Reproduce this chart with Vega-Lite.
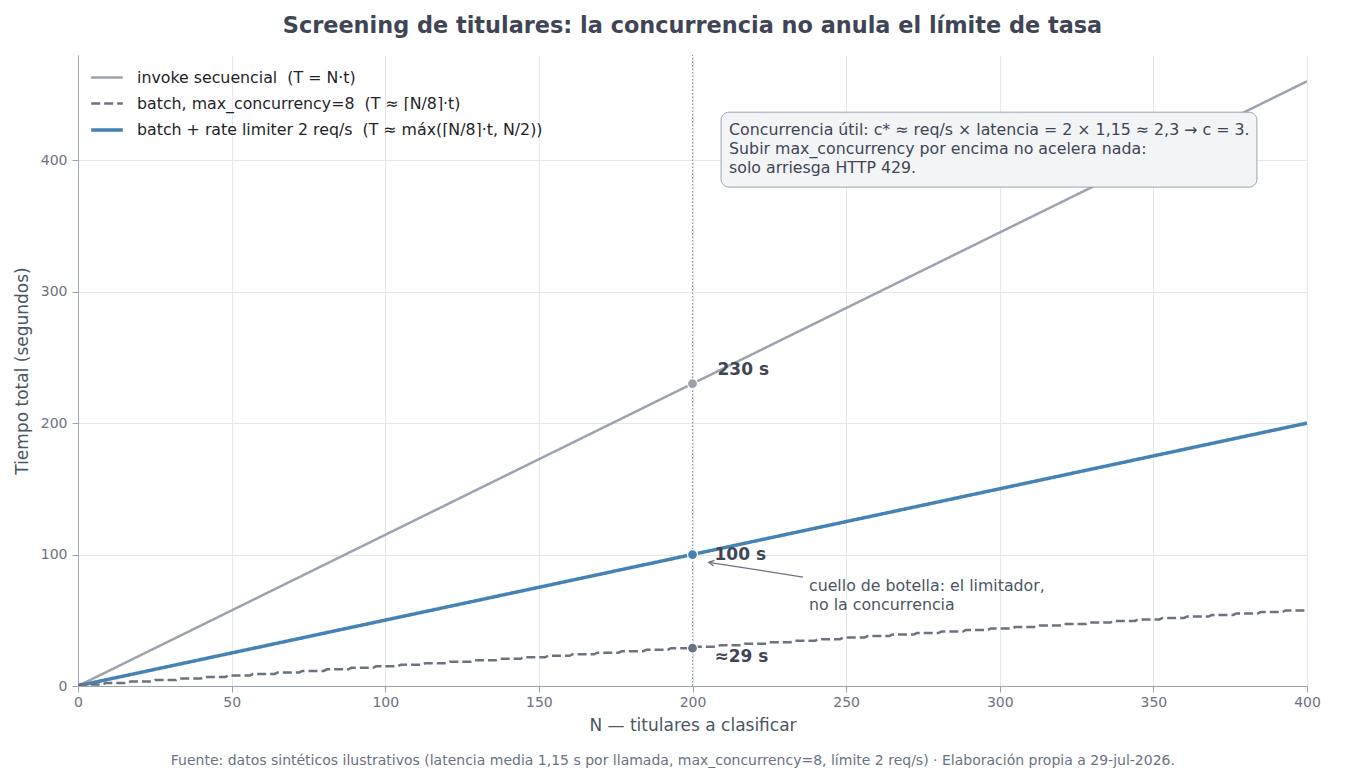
{
  "$schema": "https://vega.github.io/schema/vega-lite/v6.json",
  "width": 1229,
  "height": 631,
  "autosize": {"type": "none"},
  "padding": {"left": 78, "top": 55, "right": 43, "bottom": 94},
  "background": "white",
  "config": {
    "font": "DejaVu Sans",
    "view": {"stroke": null},
    "axis": {
      "domainColor": "#9aa3b2",
      "tickColor": "#9aa3b2",
      "gridColor": "#e5e7eb",
      "labelColor": "#6b7280",
      "labelFontSize": 14,
      "titleColor": "#4b5563",
      "titleFontSize": 17,
      "titleFontWeight": "normal",
      "tickSize": 6
    },
    "legend": {
      "labelFontSize": 15.8,
      "labelColor": "#1f2328",
      "labelLimit": 700
    }
  },
  "title": {
    "text": "Screening de titulares: la concurrencia no anula el límite de tasa",
    "fontSize": 22.4,
    "fontWeight": "bold",
    "color": "#3f4555",
    "offset": 17
  },
  "data": {"values": [{}]},
  "datasets": {
    "lineas": [
      {"serie": "invoke secuencial\u00a0\u00a0(T = N·t)", "N": 0, "T": 0},
      {"serie": "invoke secuencial\u00a0\u00a0(T = N·t)", "N": 400, "T": 460},
      {"serie": "batch + rate limiter 2 req/s\u00a0\u00a0(T ≈ máx(⌈N/8⌉·t, N/2))", "N": 0, "T": 0},
      {"serie": "batch + rate limiter 2 req/s\u00a0\u00a0(T ≈ máx(⌈N/8⌉·t, N/2))", "N": 1, "T": 1.15},
      {"serie": "batch + rate limiter 2 req/s\u00a0\u00a0(T ≈ máx(⌈N/8⌉·t, N/2))", "N": 2, "T": 1.15},
      {"serie": "batch + rate limiter 2 req/s\u00a0\u00a0(T ≈ máx(⌈N/8⌉·t, N/2))", "N": 400, "T": 200},
      {"serie": "batch, max_concurrency=8\u00a0\u00a0(T ≈ ⌈N/8⌉·t)", "N": 0, "T": 0},
      {"serie": "batch, max_concurrency=8\u00a0\u00a0(T ≈ ⌈N/8⌉·t)", "N": 1, "T": 1.15},
      {"serie": "batch, max_concurrency=8\u00a0\u00a0(T ≈ ⌈N/8⌉·t)", "N": 8, "T": 1.15},
      {"serie": "batch, max_concurrency=8\u00a0\u00a0(T ≈ ⌈N/8⌉·t)", "N": 9, "T": 2.3},
      {"serie": "batch, max_concurrency=8\u00a0\u00a0(T ≈ ⌈N/8⌉·t)", "N": 16, "T": 2.3},
      {"serie": "batch, max_concurrency=8\u00a0\u00a0(T ≈ ⌈N/8⌉·t)", "N": 17, "T": 3.45},
      {"serie": "batch, max_concurrency=8\u00a0\u00a0(T ≈ ⌈N/8⌉·t)", "N": 24, "T": 3.45},
      {"serie": "batch, max_concurrency=8\u00a0\u00a0(T ≈ ⌈N/8⌉·t)", "N": 25, "T": 4.6},
      {"serie": "batch, max_concurrency=8\u00a0\u00a0(T ≈ ⌈N/8⌉·t)", "N": 32, "T": 4.6},
      {"serie": "batch, max_concurrency=8\u00a0\u00a0(T ≈ ⌈N/8⌉·t)", "N": 33, "T": 5.75},
      {"serie": "batch, max_concurrency=8\u00a0\u00a0(T ≈ ⌈N/8⌉·t)", "N": 40, "T": 5.75},
      {"serie": "batch, max_concurrency=8\u00a0\u00a0(T ≈ ⌈N/8⌉·t)", "N": 41, "T": 6.9},
      {"serie": "batch, max_concurrency=8\u00a0\u00a0(T ≈ ⌈N/8⌉·t)", "N": 48, "T": 6.9},
      {"serie": "batch, max_concurrency=8\u00a0\u00a0(T ≈ ⌈N/8⌉·t)", "N": 49, "T": 8.05},
      {"serie": "batch, max_concurrency=8\u00a0\u00a0(T ≈ ⌈N/8⌉·t)", "N": 56, "T": 8.05},
      {"serie": "batch, max_concurrency=8\u00a0\u00a0(T ≈ ⌈N/8⌉·t)", "N": 57, "T": 9.2},
      {"serie": "batch, max_concurrency=8\u00a0\u00a0(T ≈ ⌈N/8⌉·t)", "N": 64, "T": 9.2},
      {"serie": "batch, max_concurrency=8\u00a0\u00a0(T ≈ ⌈N/8⌉·t)", "N": 65, "T": 10.35},
      {"serie": "batch, max_concurrency=8\u00a0\u00a0(T ≈ ⌈N/8⌉·t)", "N": 72, "T": 10.35},
      {"serie": "batch, max_concurrency=8\u00a0\u00a0(T ≈ ⌈N/8⌉·t)", "N": 73, "T": 11.5},
      {"serie": "batch, max_concurrency=8\u00a0\u00a0(T ≈ ⌈N/8⌉·t)", "N": 80, "T": 11.5},
      {"serie": "batch, max_concurrency=8\u00a0\u00a0(T ≈ ⌈N/8⌉·t)", "N": 81, "T": 12.65},
      {"serie": "batch, max_concurrency=8\u00a0\u00a0(T ≈ ⌈N/8⌉·t)", "N": 88, "T": 12.65},
      {"serie": "batch, max_concurrency=8\u00a0\u00a0(T ≈ ⌈N/8⌉·t)", "N": 89, "T": 13.8},
      {"serie": "batch, max_concurrency=8\u00a0\u00a0(T ≈ ⌈N/8⌉·t)", "N": 96, "T": 13.8},
      {"serie": "batch, max_concurrency=8\u00a0\u00a0(T ≈ ⌈N/8⌉·t)", "N": 97, "T": 14.95},
      {"serie": "batch, max_concurrency=8\u00a0\u00a0(T ≈ ⌈N/8⌉·t)", "N": 104, "T": 14.95},
      {"serie": "batch, max_concurrency=8\u00a0\u00a0(T ≈ ⌈N/8⌉·t)", "N": 105, "T": 16.1},
      {"serie": "batch, max_concurrency=8\u00a0\u00a0(T ≈ ⌈N/8⌉·t)", "N": 112, "T": 16.1},
      {"serie": "batch, max_concurrency=8\u00a0\u00a0(T ≈ ⌈N/8⌉·t)", "N": 113, "T": 17.25},
      {"serie": "batch, max_concurrency=8\u00a0\u00a0(T ≈ ⌈N/8⌉·t)", "N": 120, "T": 17.25},
      {"serie": "batch, max_concurrency=8\u00a0\u00a0(T ≈ ⌈N/8⌉·t)", "N": 121, "T": 18.4},
      {"serie": "batch, max_concurrency=8\u00a0\u00a0(T ≈ ⌈N/8⌉·t)", "N": 128, "T": 18.4},
      {"serie": "batch, max_concurrency=8\u00a0\u00a0(T ≈ ⌈N/8⌉·t)", "N": 129, "T": 19.55},
      {"serie": "batch, max_concurrency=8\u00a0\u00a0(T ≈ ⌈N/8⌉·t)", "N": 136, "T": 19.55},
      {"serie": "batch, max_concurrency=8\u00a0\u00a0(T ≈ ⌈N/8⌉·t)", "N": 137, "T": 20.7},
      {"serie": "batch, max_concurrency=8\u00a0\u00a0(T ≈ ⌈N/8⌉·t)", "N": 144, "T": 20.7},
      {"serie": "batch, max_concurrency=8\u00a0\u00a0(T ≈ ⌈N/8⌉·t)", "N": 145, "T": 21.85},
      {"serie": "batch, max_concurrency=8\u00a0\u00a0(T ≈ ⌈N/8⌉·t)", "N": 152, "T": 21.85},
      {"serie": "batch, max_concurrency=8\u00a0\u00a0(T ≈ ⌈N/8⌉·t)", "N": 153, "T": 23.0},
      {"serie": "batch, max_concurrency=8\u00a0\u00a0(T ≈ ⌈N/8⌉·t)", "N": 160, "T": 23.0},
      {"serie": "batch, max_concurrency=8\u00a0\u00a0(T ≈ ⌈N/8⌉·t)", "N": 161, "T": 24.15},
      {"serie": "batch, max_concurrency=8\u00a0\u00a0(T ≈ ⌈N/8⌉·t)", "N": 168, "T": 24.15},
      {"serie": "batch, max_concurrency=8\u00a0\u00a0(T ≈ ⌈N/8⌉·t)", "N": 169, "T": 25.3},
      {"serie": "batch, max_concurrency=8\u00a0\u00a0(T ≈ ⌈N/8⌉·t)", "N": 176, "T": 25.3},
      {"serie": "batch, max_concurrency=8\u00a0\u00a0(T ≈ ⌈N/8⌉·t)", "N": 177, "T": 26.45},
      {"serie": "batch, max_concurrency=8\u00a0\u00a0(T ≈ ⌈N/8⌉·t)", "N": 184, "T": 26.45},
      {"serie": "batch, max_concurrency=8\u00a0\u00a0(T ≈ ⌈N/8⌉·t)", "N": 185, "T": 27.6},
      {"serie": "batch, max_concurrency=8\u00a0\u00a0(T ≈ ⌈N/8⌉·t)", "N": 192, "T": 27.6},
      {"serie": "batch, max_concurrency=8\u00a0\u00a0(T ≈ ⌈N/8⌉·t)", "N": 193, "T": 28.75},
      {"serie": "batch, max_concurrency=8\u00a0\u00a0(T ≈ ⌈N/8⌉·t)", "N": 200, "T": 28.75},
      {"serie": "batch, max_concurrency=8\u00a0\u00a0(T ≈ ⌈N/8⌉·t)", "N": 201, "T": 29.9},
      {"serie": "batch, max_concurrency=8\u00a0\u00a0(T ≈ ⌈N/8⌉·t)", "N": 208, "T": 29.9},
      {"serie": "batch, max_concurrency=8\u00a0\u00a0(T ≈ ⌈N/8⌉·t)", "N": 209, "T": 31.05},
      {"serie": "batch, max_concurrency=8\u00a0\u00a0(T ≈ ⌈N/8⌉·t)", "N": 216, "T": 31.05},
      {"serie": "batch, max_concurrency=8\u00a0\u00a0(T ≈ ⌈N/8⌉·t)", "N": 217, "T": 32.2},
      {"serie": "batch, max_concurrency=8\u00a0\u00a0(T ≈ ⌈N/8⌉·t)", "N": 224, "T": 32.2},
      {"serie": "batch, max_concurrency=8\u00a0\u00a0(T ≈ ⌈N/8⌉·t)", "N": 225, "T": 33.35},
      {"serie": "batch, max_concurrency=8\u00a0\u00a0(T ≈ ⌈N/8⌉·t)", "N": 232, "T": 33.35},
      {"serie": "batch, max_concurrency=8\u00a0\u00a0(T ≈ ⌈N/8⌉·t)", "N": 233, "T": 34.5},
      {"serie": "batch, max_concurrency=8\u00a0\u00a0(T ≈ ⌈N/8⌉·t)", "N": 240, "T": 34.5},
      {"serie": "batch, max_concurrency=8\u00a0\u00a0(T ≈ ⌈N/8⌉·t)", "N": 241, "T": 35.65},
      {"serie": "batch, max_concurrency=8\u00a0\u00a0(T ≈ ⌈N/8⌉·t)", "N": 248, "T": 35.65},
      {"serie": "batch, max_concurrency=8\u00a0\u00a0(T ≈ ⌈N/8⌉·t)", "N": 249, "T": 36.8},
      {"serie": "batch, max_concurrency=8\u00a0\u00a0(T ≈ ⌈N/8⌉·t)", "N": 256, "T": 36.8},
      {"serie": "batch, max_concurrency=8\u00a0\u00a0(T ≈ ⌈N/8⌉·t)", "N": 257, "T": 37.95},
      {"serie": "batch, max_concurrency=8\u00a0\u00a0(T ≈ ⌈N/8⌉·t)", "N": 264, "T": 37.95},
      {"serie": "batch, max_concurrency=8\u00a0\u00a0(T ≈ ⌈N/8⌉·t)", "N": 265, "T": 39.1},
      {"serie": "batch, max_concurrency=8\u00a0\u00a0(T ≈ ⌈N/8⌉·t)", "N": 272, "T": 39.1},
      {"serie": "batch, max_concurrency=8\u00a0\u00a0(T ≈ ⌈N/8⌉·t)", "N": 273, "T": 40.25},
      {"serie": "batch, max_concurrency=8\u00a0\u00a0(T ≈ ⌈N/8⌉·t)", "N": 280, "T": 40.25},
      {"serie": "batch, max_concurrency=8\u00a0\u00a0(T ≈ ⌈N/8⌉·t)", "N": 281, "T": 41.4},
      {"serie": "batch, max_concurrency=8\u00a0\u00a0(T ≈ ⌈N/8⌉·t)", "N": 288, "T": 41.4},
      {"serie": "batch, max_concurrency=8\u00a0\u00a0(T ≈ ⌈N/8⌉·t)", "N": 289, "T": 42.55},
      {"serie": "batch, max_concurrency=8\u00a0\u00a0(T ≈ ⌈N/8⌉·t)", "N": 296, "T": 42.55},
      {"serie": "batch, max_concurrency=8\u00a0\u00a0(T ≈ ⌈N/8⌉·t)", "N": 297, "T": 43.7},
      {"serie": "batch, max_concurrency=8\u00a0\u00a0(T ≈ ⌈N/8⌉·t)", "N": 304, "T": 43.7},
      {"serie": "batch, max_concurrency=8\u00a0\u00a0(T ≈ ⌈N/8⌉·t)", "N": 305, "T": 44.85},
      {"serie": "batch, max_concurrency=8\u00a0\u00a0(T ≈ ⌈N/8⌉·t)", "N": 312, "T": 44.85},
      {"serie": "batch, max_concurrency=8\u00a0\u00a0(T ≈ ⌈N/8⌉·t)", "N": 313, "T": 46.0},
      {"serie": "batch, max_concurrency=8\u00a0\u00a0(T ≈ ⌈N/8⌉·t)", "N": 320, "T": 46.0},
      {"serie": "batch, max_concurrency=8\u00a0\u00a0(T ≈ ⌈N/8⌉·t)", "N": 321, "T": 47.15},
      {"serie": "batch, max_concurrency=8\u00a0\u00a0(T ≈ ⌈N/8⌉·t)", "N": 328, "T": 47.15},
      {"serie": "batch, max_concurrency=8\u00a0\u00a0(T ≈ ⌈N/8⌉·t)", "N": 329, "T": 48.3},
      {"serie": "batch, max_concurrency=8\u00a0\u00a0(T ≈ ⌈N/8⌉·t)", "N": 336, "T": 48.3},
      {"serie": "batch, max_concurrency=8\u00a0\u00a0(T ≈ ⌈N/8⌉·t)", "N": 337, "T": 49.45},
      {"serie": "batch, max_concurrency=8\u00a0\u00a0(T ≈ ⌈N/8⌉·t)", "N": 344, "T": 49.45},
      {"serie": "batch, max_concurrency=8\u00a0\u00a0(T ≈ ⌈N/8⌉·t)", "N": 345, "T": 50.6},
      {"serie": "batch, max_concurrency=8\u00a0\u00a0(T ≈ ⌈N/8⌉·t)", "N": 352, "T": 50.6},
      {"serie": "batch, max_concurrency=8\u00a0\u00a0(T ≈ ⌈N/8⌉·t)", "N": 353, "T": 51.75},
      {"serie": "batch, max_concurrency=8\u00a0\u00a0(T ≈ ⌈N/8⌉·t)", "N": 360, "T": 51.75},
      {"serie": "batch, max_concurrency=8\u00a0\u00a0(T ≈ ⌈N/8⌉·t)", "N": 361, "T": 52.9},
      {"serie": "batch, max_concurrency=8\u00a0\u00a0(T ≈ ⌈N/8⌉·t)", "N": 368, "T": 52.9},
      {"serie": "batch, max_concurrency=8\u00a0\u00a0(T ≈ ⌈N/8⌉·t)", "N": 369, "T": 54.05},
      {"serie": "batch, max_concurrency=8\u00a0\u00a0(T ≈ ⌈N/8⌉·t)", "N": 376, "T": 54.05},
      {"serie": "batch, max_concurrency=8\u00a0\u00a0(T ≈ ⌈N/8⌉·t)", "N": 377, "T": 55.2},
      {"serie": "batch, max_concurrency=8\u00a0\u00a0(T ≈ ⌈N/8⌉·t)", "N": 384, "T": 55.2},
      {"serie": "batch, max_concurrency=8\u00a0\u00a0(T ≈ ⌈N/8⌉·t)", "N": 385, "T": 56.35},
      {"serie": "batch, max_concurrency=8\u00a0\u00a0(T ≈ ⌈N/8⌉·t)", "N": 392, "T": 56.35},
      {"serie": "batch, max_concurrency=8\u00a0\u00a0(T ≈ ⌈N/8⌉·t)", "N": 393, "T": 57.5},
      {"serie": "batch, max_concurrency=8\u00a0\u00a0(T ≈ ⌈N/8⌉·t)", "N": 400, "T": 57.5}
    ],
    "puntos": [
      {"serie": "invoke secuencial\u00a0\u00a0(T = N·t)", "N": 200, "T": 230, "etiqueta": "230 s"},
      {"serie": "batch + rate limiter 2 req/s\u00a0\u00a0(T ≈ máx(⌈N/8⌉·t, N/2))", "N": 200, "T": 100, "etiqueta": "100 s"},
      {"serie": "batch, max_concurrency=8\u00a0\u00a0(T ≈ ⌈N/8⌉·t)", "N": 200, "T": 28.75, "etiqueta": "≈29 s"}
    ]
  },
  "layer": [
    {
      "mark": {"type": "rule", "color": "#8b95a5", "strokeWidth": 1, "strokeDash": [1.5, 2]},
      "encoding": {
        "x": {"datum": 200, "type": "quantitative", "scale": {"domain": [0, 400], "nice": false}},
        "y": {"datum": 0, "type": "quantitative"},
        "y2": {"datum": 480}
      }
    },
    {
      "data": {"name": "lineas"},
      "mark": {"type": "line", "clip": true},
      "encoding": {
        "x": {
          "field": "N", "type": "quantitative",
          "scale": {"domain": [0, 400], "nice": false},
          "axis": {"title": "N — titulares a clasificar", "values": [0, 50, 100, 150, 200, 250, 300, 350, 400], "grid": true, "labelFlush": false, "labelPadding": 3, "titlePadding": 8}
        },
        "y": {
          "field": "T", "type": "quantitative",
          "scale": {"domain": [0, 480], "nice": false},
          "axis": {"title": "Tiempo total (segundos)", "values": [0, 100, 200, 300, 400], "grid": true, "labelPadding": 5, "titlePadding": 9}
        },
        "color": {
          "field": "serie", "type": "nominal",
          "scale": {
            "domain": [
              "invoke secuencial\u00a0\u00a0(T = N·t)",
              "batch, max_concurrency=8\u00a0\u00a0(T ≈ ⌈N/8⌉·t)",
              "batch + rate limiter 2 req/s\u00a0\u00a0(T ≈ máx(⌈N/8⌉·t, N/2))"
            ],
            "range": ["#9ca3af", "#6b7280", "#4682b4"]
          },
          "legend": {
            "title": null, "orient": "none", "legendX": 11, "legendY": 5, "padding": 0,
            "symbolType": "stroke", "symbolSize": 1000, "symbolStrokeWidth": 3,
            "labelOffset": 12, "rowPadding": -5
          }
        },
        "strokeDash": {
          "field": "serie", "type": "nominal",
          "scale": {
            "domain": [
              "invoke secuencial\u00a0\u00a0(T = N·t)",
              "batch, max_concurrency=8\u00a0\u00a0(T ≈ ⌈N/8⌉·t)",
              "batch + rate limiter 2 req/s\u00a0\u00a0(T ≈ máx(⌈N/8⌉·t, N/2))"
            ],
            "range": [[1, 0], [9, 4], [1, 0]]
          },
          "legend": {
            "title": null, "orient": "none", "legendX": 11, "legendY": 5, "padding": 0,
            "symbolType": "stroke", "symbolSize": 1000, "symbolStrokeWidth": 3,
            "labelOffset": 12, "rowPadding": -5
          }
        },
        "strokeWidth": {
          "field": "serie", "type": "nominal",
          "scale": {
            "type": "ordinal",
            "domain": [
              "invoke secuencial\u00a0\u00a0(T = N·t)",
              "batch, max_concurrency=8\u00a0\u00a0(T ≈ ⌈N/8⌉·t)",
              "batch + rate limiter 2 req/s\u00a0\u00a0(T ≈ máx(⌈N/8⌉·t, N/2))"
            ],
            "range": [2.5, 2.5, 3.5]
          },
          "legend": {
            "title": null, "orient": "none", "legendX": 11, "legendY": 5, "padding": 0,
            "symbolType": "stroke", "symbolSize": 1000,
            "labelOffset": 12, "rowPadding": -5
          }
        },
        "order": {"field": "N", "type": "quantitative"}
      }
    },
    {
      "data": {"name": "puntos"},
      "mark": {"type": "point", "filled": true, "size": 100, "stroke": "white", "strokeWidth": 1.2, "opacity": 1},
      "encoding": {
        "x": {"field": "N", "type": "quantitative"},
        "y": {"field": "T", "type": "quantitative"},
        "color": {"field": "serie", "type": "nominal", "legend": null}
      }
    },
    {
      "data": {"name": "puntos"},
      "transform": [{"filter": "datum.T == 230"}],
      "mark": {"type": "text", "align": "left", "baseline": "middle", "dx": 25, "dy": -14, "fontSize": 17, "fontWeight": "bold", "color": "#3f4555"},
      "encoding": {
        "x": {"field": "N", "type": "quantitative"},
        "y": {"field": "T", "type": "quantitative"},
        "text": {"field": "etiqueta"}
      }
    },
    {
      "data": {"name": "puntos"},
      "transform": [{"filter": "datum.T == 100"}],
      "mark": {"type": "text", "align": "left", "baseline": "middle", "dx": 22, "dy": 0, "fontSize": 17, "fontWeight": "bold", "color": "#3f4555"},
      "encoding": {
        "x": {"field": "N", "type": "quantitative"},
        "y": {"field": "T", "type": "quantitative"},
        "text": {"field": "etiqueta"}
      }
    },
    {
      "data": {"name": "puntos"},
      "transform": [{"filter": "datum.T < 50"}],
      "mark": {"type": "text", "align": "left", "baseline": "middle", "dx": 22, "dy": 9, "fontSize": 17, "fontWeight": "bold", "color": "#3f4555"},
      "encoding": {
        "x": {"field": "N", "type": "quantitative"},
        "y": {"field": "T", "type": "quantitative"},
        "text": {"field": "etiqueta"}
      }
    },
    {
      "mark": {"type": "rect", "fill": "#f3f4f6", "stroke": "#9aa3b2", "strokeWidth": 1, "cornerRadius": 8},
      "encoding": {
        "x": {"datum": 209.3, "type": "quantitative"},
        "x2": {"datum": 383.7},
        "y": {"datum": 436.5, "type": "quantitative"},
        "y2": {"datum": 379.5}
      }
    },
    {
      "mark": {"type": "text", "align": "left", "baseline": "middle", "fontSize": 15.8, "lineHeight": 19, "color": "#3f4555",
        "text": ["Concurrencia útil: c* ≈ req/s × latencia = 2 × 1,15 ≈ 2,3 → c = 3.", "Subir max_concurrency por encima no acelera nada:", "solo arriesga HTTP 429."]},
      "encoding": {
        "x": {"datum": 211.9, "type": "quantitative"},
        "y": {"datum": 422.8, "type": "quantitative"}
      }
    },
    {
      "mark": {"type": "rule", "color": "#6b7280", "strokeWidth": 1.3},
      "encoding": {
        "x": {"datum": 236, "type": "quantitative"},
        "y": {"datum": 82.9, "type": "quantitative"},
        "x2": {"datum": 205.3},
        "y2": {"datum": 94.1}
      }
    },
    {
      "mark": {"type": "point", "shape": "M 1 -0.55 L 0 0 L 1 0.55", "size": 110, "filled": false, "stroke": "#6b7280", "strokeWidth": 1.3, "angle": 9, "opacity": 1},
      "encoding": {
        "x": {"datum": 205.3, "type": "quantitative"},
        "y": {"datum": 94.1, "type": "quantitative"}
      }
    },
    {
      "mark": {"type": "text", "align": "left", "baseline": "middle", "fontSize": 15.8, "lineHeight": 19, "color": "#4b5563",
        "text": ["cuello de botella: el limitador,", "no la concurrencia"]},
      "encoding": {
        "x": {"datum": 237.9, "type": "quantitative"},
        "y": {"datum": 76.3, "type": "quantitative"}
      }
    },
    {
      "mark": {"type": "text", "align": "center", "baseline": "middle", "fontSize": 14, "color": "#6b7280",
        "text": "Fuente: datos sintéticos ilustrativos (latencia media 1,15 s por llamada, max_concurrency=8, límite 2 req/s) · Elaboración propia a 29-jul-2026."},
      "encoding": {
        "x": {"datum": 193.6, "type": "quantitative"},
        "y": {"datum": -57.3, "type": "quantitative"}
      }
    }
  ]
}
